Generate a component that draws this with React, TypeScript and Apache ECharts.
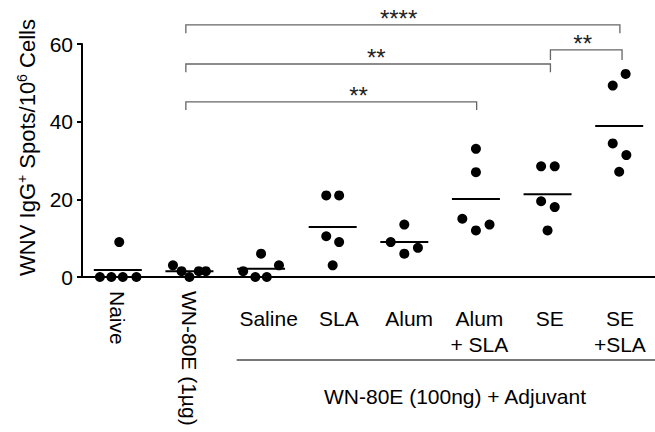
import React, { useEffect, useRef } from "react";
import * as echarts from "echarts";

const groups = ["Naive", "WN-80E (1µg)", "Saline", "SLA", "Alum", "Alum\n+ SLA", "SE", "SE\n+SLA"];
const rotatedLabels = ["Naive", "WN-80E (1µg)"];
const adjuvantLabels = ["Saline", "SLA", "Alum", "Alum\n+ SLA", "SE", "SE\n+SLA"];
const groupTitle = "WN-80E (100ng) + Adjuvant";
const yTicks = [0, 20, 40, 60];

// values per group
const naive = [9, 0, 0, 0, 0];
const wn1ug = [3, 1.5, 0, 1.5, 1.5];
const saline = [1.5, 6, 0, 0, 3];
const sla = [21, 21, 10.5, 9, 3];
const alum = [13.5, 9, 6, 7.5];
const alumSla = [33, 27, 15, 12, 13.5];
const se = [28.5, 28.5, 19.5, 18, 12];
const seSla = [52.3, 49.3, 34.4, 31.4, 27.1];

// horizontal jitter of each dot, in category units
const naiveJit = [0.02, -0.25, -0.09, 0.07, 0.26];
const wn1ugJit = [-0.23, -0.11, 0, 0.13, 0.23];
const salineJit = [-0.25, 0, -0.08, 0.08, 0.25];
const slaJit = [-0.09, 0.09, -0.09, 0.09, 0];
const alumJit = [0, -0.19, 0, 0.19];
const alumSlaJit = [0, 0, -0.19, 0, 0.19];
const seJit = [-0.09, 0.1, -0.09, 0.1, 0];
const seSlaJit = [0.09, -0.09, -0.09, 0.1, 0];

// significance comparisons
const cmpFrom = [0.95, 0.95, 6.04, 0.95];
const cmpTo = [7.01, 6.04, 7.04, 5.01];
const cmpY = [64.9, 54.85, 58.5, 45.1];
const cmpDrop = [2.1, 2.1, 2.6, 2.1];
const cmpLabelX = [3.92, 3.61, 6.49, 3.36];
const cmpLabel = ["****", "**", "**", "**"];

const allValues = [naive, wn1ug, saline, sla, alum, alumSla, se, seSla];
const allJitter = [naiveJit, wn1ugJit, salineJit, slaJit, alumJit, alumSlaJit, seJit, seSlaJit];

const FONT = "'Liberation Sans', Arial, Helvetica, sans-serif";

export default function App() {
  const ref = useRef<HTMLDivElement>(null);
  useEffect(() => {
    if (!ref.current) return;
    const chart = echarts.init(ref.current, null, { renderer: "svg" });
    const dots: number[][] = [];
    allValues.forEach((vals, g) => {
      vals.forEach((v, k) => dots.push([g + allJitter[g][k], v]));
    });
    const means = allValues.map((vals, g) => [g, vals.reduce((a, b) => a + b, 0) / vals.length]);
    const cmpData = cmpFrom.map((f, i) => [f, cmpTo[i], cmpY[i], cmpDrop[i], cmpLabelX[i]]);

    chart.setOption({
      animation: false,
      backgroundColor: "#fff",
      textStyle: { fontFamily: FONT },
      grid: [
        { left: 82, right: -5, top: 44, bottom: 155 },
        { left: 233.5, right: -12, top: 44, bottom: 155 },
      ],
      xAxis: [
        {
          type: "category",
          gridIndex: 0,
          data: groups,
          boundaryGap: true,
          axisLine: { lineStyle: { color: "#000", width: 2 } },
          axisTick: { alignWithLabel: true, length: 6, lineStyle: { color: "#000", width: 2 } },
          axisLabel: {
            rotate: -90,
            margin: 14,
            fontSize: 21,
            color: "#000",
            fontFamily: FONT,
            interval: 0,
            formatter: (v: string) => (rotatedLabels.includes(v) ? v : ""),
          },
        },
        { type: "value", gridIndex: 0, min: -0.5, max: 7.5, show: false },
        {
          type: "category",
          gridIndex: 1,
          data: adjuvantLabels,
          axisLine: { show: false },
          axisTick: { show: false },
          axisLabel: { fontSize: 21, lineHeight: 26, margin: 28, color: "#000", interval: 0, fontFamily: FONT },
        },
      ],
      yAxis: [
        {
          type: "value",
          gridIndex: 0,
          min: 0,
          max: 60,
          interval: 20,
          splitLine: { show: false },
          axisLine: { show: true, onZero: false, lineStyle: { color: "#000", width: 2 } },
          axisTick: { show: true, length: 5, lineStyle: { color: "#000", width: 2 } },
          axisLabel: {
            fontSize: 21,
            color: "#000",
            margin: 9,
            fontFamily: FONT,
            formatter: (v: number) => (yTicks.includes(v) ? String(v) : ""),
          },
          name: "{a|WNV IgG}{s|+}{a| Spots/10}{s|6}{a| Cells}",
          nameLocation: "middle",
          nameGap: 39,
          nameTextStyle: {
            padding: [0, 0, 0, 26],
            rich: {
              a: { fontSize: 22, lineHeight: 26, color: "#000", fontFamily: FONT },
              s: { fontSize: 14, lineHeight: 15, verticalAlign: "top", color: "#000", fontFamily: FONT },
            },
          },
        },
        { type: "value", gridIndex: 1, show: false },
      ],
      series: [
        {
          type: "scatter",
          xAxisIndex: 1,
          yAxisIndex: 0,
          data: dots,
          symbol: "circle",
          symbolSize: 10,
          itemStyle: { color: "#000", opacity: 1 },
          clip: false,
        },
        {
          type: "scatter",
          xAxisIndex: 1,
          yAxisIndex: 0,
          data: means,
          symbol: "rect",
          symbolSize: [48, 2],
          itemStyle: { color: "#000", opacity: 1 },
          clip: false,
        },
        {
          type: "custom",
          xAxisIndex: 1,
          yAxisIndex: 0,
          clip: false,
          data: cmpData,
          renderItem: (params: any, api: any) => {
            const x1 = api.value(0);
            const x2 = api.value(1);
            const y = api.value(2);
            const drop = api.value(3);
            const lx = api.value(4);
            const p1 = api.coord([x1, y]);
            const p2 = api.coord([x2, y]);
            const p1b = api.coord([x1, y - drop]);
            const p2b = api.coord([x2, y - drop]);
            const lp = api.coord([lx, y]);
            return {
              type: "group",
              children: [
                {
                  type: "polyline",
                  shape: { points: [p1b, p1, p2, p2b] },
                  style: { stroke: "#666", lineWidth: 1.3, fill: "none" },
                },
                {
                  type: "text",
                  x: lp[0],
                  y: lp[1] - 6,
                  style: {
                    text: cmpLabel[params.dataIndex],
                    fontSize: 24,
                    fill: "#222",
                    align: "center",
                    verticalAlign: "middle",
                    fontFamily: FONT,
                  },
                },
              ],
            };
          },
        },
      ],
      graphic: [
        {
          type: "line",
          shape: { x1: 236.7, y1: 360, x2: 660, y2: 360 },
          style: { stroke: "#777", lineWidth: 2 },
        },
        {
          type: "text",
          x: 455,
          y: 396,
          style: {
            text: groupTitle,
            fontSize: 21,
            fill: "#000",
            align: "center",
            verticalAlign: "middle",
            fontFamily: FONT,
          },
        },
      ],
    });
    return () => chart.dispose();
  }, []);
  return (
    <div
      ref={ref}
      style={{ position: "absolute", left: 0, top: 0, width: 655, height: 432, background: "#fff" }}
    />
  );
}
